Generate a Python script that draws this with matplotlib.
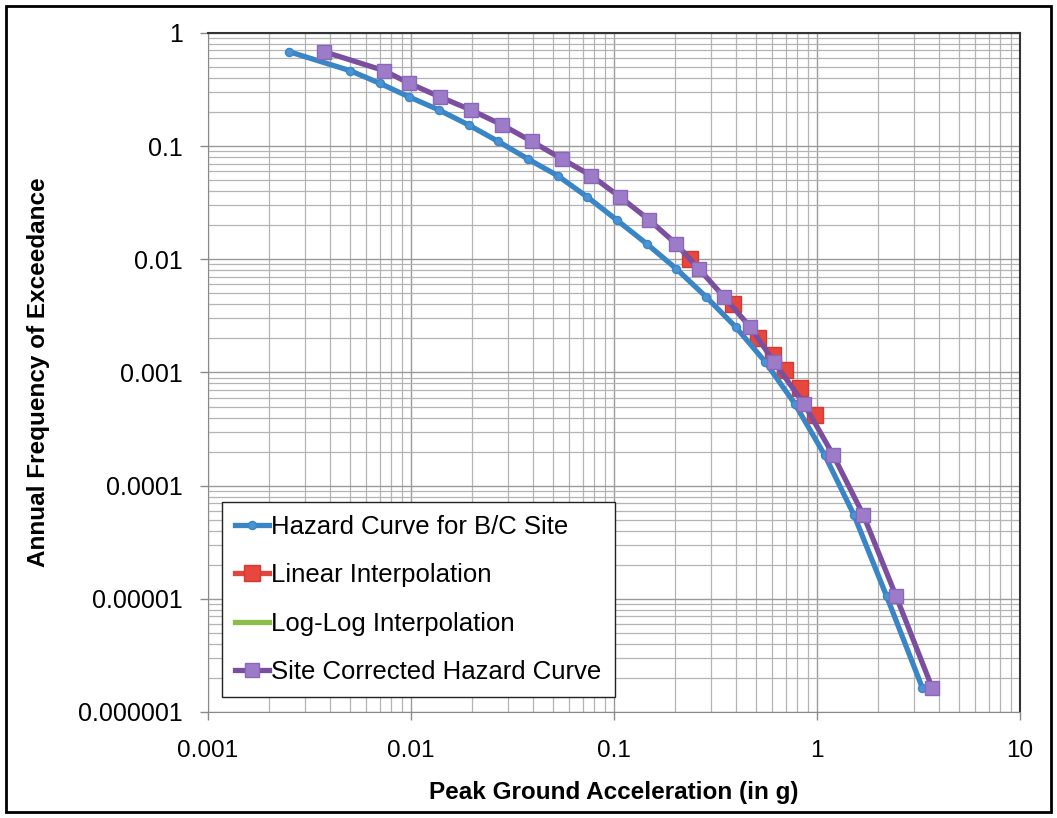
import matplotlib.pyplot as plt
import matplotlib.ticker as mticker
from matplotlib.patches import Rectangle

# 年超越频率 (两条曲线共用)
freq = [0.684, 0.465, 0.360, 0.272, 0.209, 0.154, 0.110, 0.0771, 0.0549, 0.0356,
        0.0223, 0.0137, 0.00823, 0.00466, 0.00253, 0.00124, 0.000528, 0.000187,
        5.52e-5, 1.06e-5, 1.64e-6]

# B/C 场地危险性曲线 PGA
pga_bc = [0.0025, 0.005, 0.007, 0.0098, 0.0137, 0.0192, 0.0269, 0.0376, 0.0527,
          0.0738, 0.103, 0.145, 0.203, 0.284, 0.397, 0.556, 0.778, 1.09, 1.52,
          2.2, 3.3]

# 场地修正后的 PGA
pga_site = [0.00372, 0.00736, 0.00977, 0.0139, 0.0197, 0.0281, 0.0394, 0.0554,
            0.0772, 0.107, 0.149, 0.202, 0.262, 0.348, 0.468, 0.614, 0.863, 1.20,
            1.69, 2.45, 3.69]

# 线性插值点
lin_pga = [0.237, 0.386, 0.512, 0.607, 0.695, 0.824, 0.977]
lin_freq = [0.01, 0.004, 0.002, 0.00143, 0.00105, 0.00073, 0.00042]

# 双对数插值 (图中不可见)
loglog_pga = []
loglog_freq = []

# 刻度
x_ticks = [0.001, 0.01, 0.1, 1, 10]
y_ticks = [1e-6, 1e-5, 1e-4, 1e-3, 1e-2, 0.1, 1]

fig = plt.figure(figsize=(10.57, 8.18), dpi=100)
ax = fig.add_axes([0.1968, 0.1296, 0.7682, 0.8301])

ax.plot(pga_bc, freq, color="#3a85c6", lw=3.8, marker="o", ms=5.8,
        mfc="#4a93d4", mec="#3a85c6", label="Hazard Curve for B/C Site", zorder=3)
ax.plot(lin_pga, lin_freq, color="#e0463c", lw=0, marker="s", ms=11,
        mfc="#e8473d", mec="#d23a32", label="Linear Interpolation", zorder=2)
ax.plot(loglog_pga, loglog_freq, color="#8cbc4a", lw=3.8,
        label="Log-Log Interpolation", zorder=2)
ax.plot(pga_site, freq, color="#7b4f9e", lw=3.8, marker="s", ms=9.5,
        mfc="#9c7cc8", mec="#8a67b8", label="Site Corrected Hazard Curve", zorder=4)

ax.set_xscale("log")
ax.set_yscale("log")
ax.set_xlim(0.001, 10)
ax.set_ylim(1e-6, 1)

fmt = mticker.FuncFormatter(lambda v, _: ("%f" % v).rstrip("0").rstrip("."))
ax.xaxis.set_major_locator(mticker.FixedLocator(x_ticks))
ax.yaxis.set_major_locator(mticker.FixedLocator(y_ticks))
ax.xaxis.set_major_formatter(fmt)
ax.yaxis.set_major_formatter(fmt)
ax.xaxis.set_minor_locator(mticker.LogLocator(base=10, subs=range(2, 10), numticks=10))
ax.yaxis.set_minor_locator(mticker.LogLocator(base=10, subs=range(2, 10), numticks=10))
ax.xaxis.set_minor_formatter(mticker.NullFormatter())
ax.yaxis.set_minor_formatter(mticker.NullFormatter())

ax.grid(which="major", color="#9a9a9a", lw=1.0)
ax.grid(which="minor", color="#b4b4b4", lw=0.9)
ax.set_axisbelow(True)
ax.tick_params(which="major", length=6, color="#8a8a8a", width=1)
ax.tick_params(which="minor", length=0)
ax.tick_params(axis="x", labelsize=17.5, pad=14)
ax.tick_params(axis="y", labelsize=18, pad=12)
for lab in ax.get_xticklabels() + ax.get_yticklabels():
    lab.set_family("Liberation Sans")

for s in ["left", "bottom"]:
    ax.spines[s].set_color("#8a8a8a")
for s in ["top", "right"]:
    ax.spines[s].set_color("#333333")
    ax.spines[s].set_linewidth(1.5)

ax.set_xlabel("Peak Ground Acceleration (in g)", fontsize=17.5, fontweight="bold",
              family="Liberation Sans", labelpad=14)
ax.set_ylabel("Annual Frequency of Exceedance", fontsize=17.5, fontweight="bold",
              family="Liberation Sans", labelpad=20)

leg = ax.legend(loc="lower left", bbox_to_anchor=(0.017, 0.022), borderaxespad=0,
                prop={"family": "Liberation Sans", "size": 18.5},
                frameon=True, fancybox=False, edgecolor="#222222", framealpha=1,
                handlelength=1.35, handletextpad=0.08, labelspacing=0.95,
                borderpad=0.5)
leg.get_frame().set_linewidth(1.0)
# 图例中线性插值也带线段
red_handle = leg.legend_handles[1]
red_handle.set_linestyle("-")
red_handle.set_linewidth(3.8)

fig.patches.append(Rectangle((0.006, 0.007), 0.988, 0.986, transform=fig.transFigure,
                             fill=False, edgecolor="black", lw=2))

fig.savefig("out.png", dpi=100)
